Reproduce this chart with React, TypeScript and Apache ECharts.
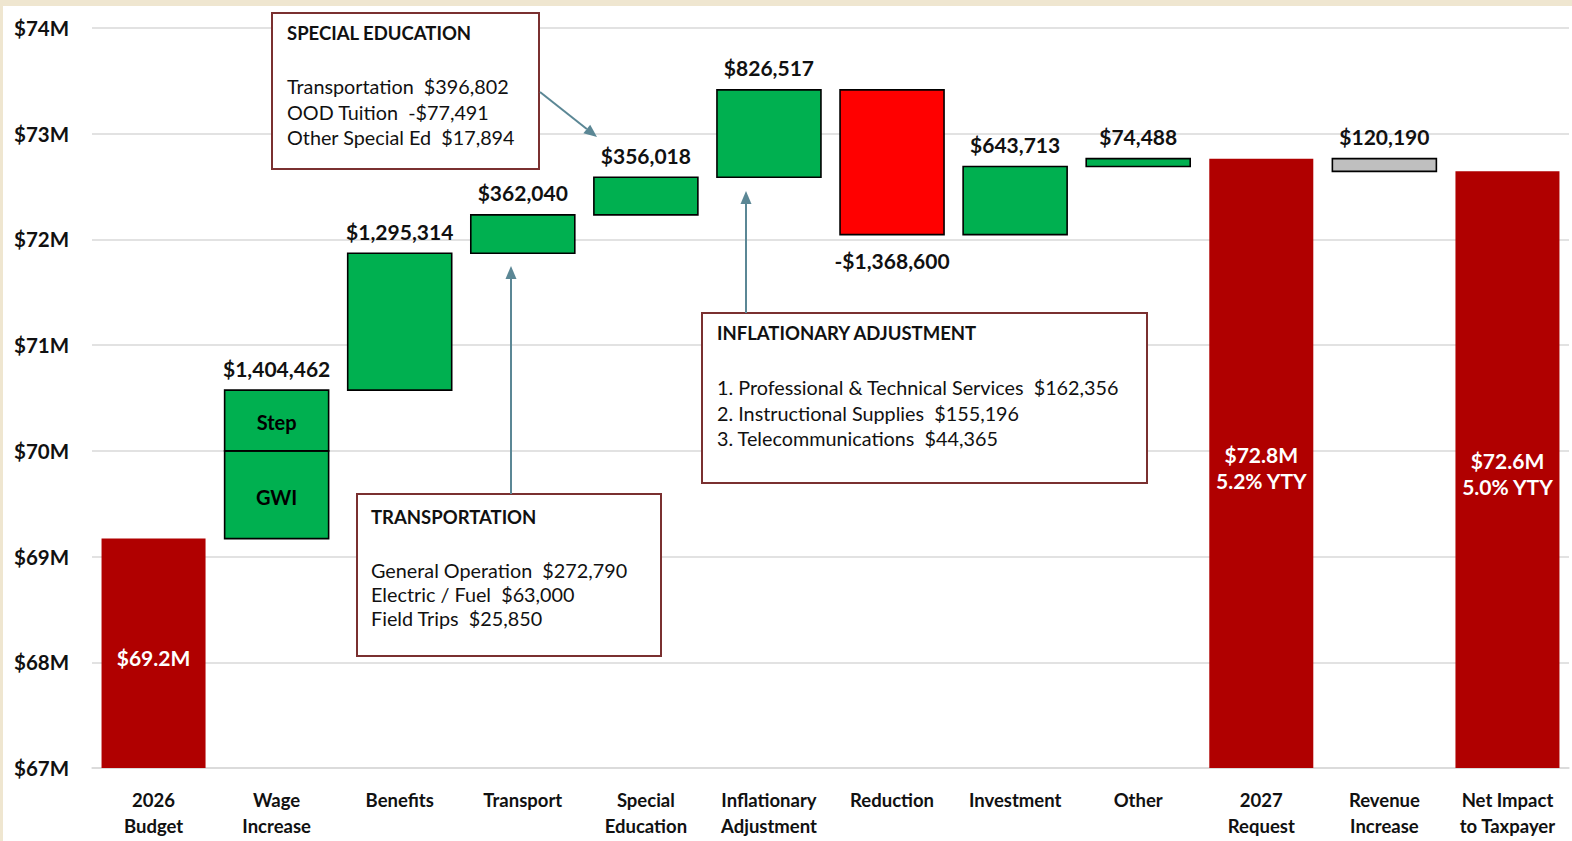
import React, { useEffect, useRef } from 'react';
import * as echarts from 'echarts';

const categories = [
  '2026\nBudget', 'Wage\nIncrease', 'Benefits', 'Transport', 'Special\nEducation',
  'Inflationary\nAdjustment', 'Reduction', 'Investment', 'Other', '2027\nRequest',
  'Revenue\nIncrease', 'Net Impact\nto Taxpayer',
];
const budget2026 = 69170000;
const wageGWI = 830000;
const wageStep = 574462;
const stepChanges = [1295314, 362040, 356018, 826517, -1368600, 643713, 74488]; // Benefits .. Other
const revenueIncrease = 120190;
const changeLabels = ['$1,404,462', '$1,295,314', '$362,040', '$356,018', '$826,517', '-$1,368,600', '$643,713', '$74,488'];
const revenueLabel = '$120,190';
const totalLabels = ['$69.2M', '$72.8M\n5.2% YTY', '$72.6M\n5.0% YTY'];
const yMin = 67;
const yMax = 74;

const GREEN = '#00B050';
const RED = '#FF0000';
const DARK = '#B00000';
const GRAY = '#BFBFBF';
const FONT = 'Lato';

type Row = { i: number; lo: number; hi: number; fill: string; border: boolean; top?: string; bottom?: string; inner?: string; innerColor?: string };

function buildRows(): Row[] {
  const M = 1e6;
  const rows: Row[] = [];
  let cur = budget2026;
  rows.push({ i: 0, lo: 0, hi: cur / M, fill: DARK, border: false, inner: totalLabels[0], innerColor: '#fff' });
  rows.push({ i: 1, lo: cur / M, hi: (cur + wageGWI) / M, fill: GREEN, border: true, inner: 'GWI', innerColor: '#000' });
  rows.push({ i: 1, lo: (cur + wageGWI) / M, hi: (cur + wageGWI + wageStep) / M, fill: GREEN, border: true, inner: 'Step', innerColor: '#000', top: changeLabels[0] });
  cur += wageGWI + wageStep;
  stepChanges.forEach((d, k) => {
    const next = cur + d;
    const neg = d < 0;
    rows.push({
      i: 2 + k, lo: Math.min(cur, next) / M, hi: Math.max(cur, next) / M,
      fill: neg ? RED : GREEN, border: true,
      top: neg ? undefined : changeLabels[1 + k], bottom: neg ? changeLabels[1 + k] : undefined,
    });
    cur = next;
  });
  rows.push({ i: 9, lo: 0, hi: cur / M, fill: DARK, border: false, inner: totalLabels[1], innerColor: '#fff' });
  const net = cur - revenueIncrease;
  rows.push({ i: 10, lo: net / M, hi: cur / M, fill: GRAY, border: true, top: revenueLabel });
  rows.push({ i: 11, lo: 0, hi: net / M, fill: DARK, border: false, inner: totalLabels[2], innerColor: '#fff' });
  return rows;
}

const ARROW = '#5B8795';
const BOX = '#7A3030';

function arrow(x1: number, y1: number, x2: number, y2: number) {
  const dx = x2 - x1, dy = y2 - y1;
  const len = Math.sqrt(dx * dx + dy * dy);
  const ux = dx / len, uy = dy / len;
  const bx = x2 - ux * 13, by = y2 - uy * 13;
  const px = -uy * 5.5, py = ux * 5.5;
  return [
    { type: 'line', z: 20, shape: { x1, y1, x2: bx, y2: by }, style: { stroke: ARROW, lineWidth: 2 } },
    { type: 'polygon', z: 20, shape: { points: [[x2, y2], [bx + px, by + py], [bx - px, by - py]] }, style: { fill: ARROW } },
  ];
}

function box(x: number, y: number, w: number, h: number, title: string, lines: string[], titleY: number, firstY: number, gap: number, tx: number) {
  const els: any[] = [
    { type: 'rect', z: 15, shape: { x, y, width: w, height: h }, style: { fill: '#fff', stroke: BOX, lineWidth: 2 } },
    { type: 'text', z: 16, x: tx, y: titleY, style: { text: title, fontFamily: FONT, fontWeight: 'bold', fontSize: 18.5, fill: '#111', verticalAlign: 'middle' } },
  ];
  lines.forEach((t, k) => {
    els.push({ type: 'text', z: 16, x: tx, y: firstY + k * gap, style: { text: t, fontFamily: FONT, fontSize: 19.8, fill: '#111', verticalAlign: 'middle' } });
  });
  return els;
}

export default function App() {
  const ref = useRef<HTMLDivElement>(null);
  useEffect(() => {
    document.body.style.margin = '0';
    const chart = echarts.init(ref.current!, undefined, { renderer: 'svg' });
    const rows = buildRows();
    const option: any = {
      animation: false,
      backgroundColor: '#fff',
      grid: { left: 92, right: 3, top: 28, bottom: 73, containLabel: false },
      xAxis: {
        type: 'category', data: categories,
        axisLine: { lineStyle: { color: '#D9D9D9', width: 1.5 } },
        axisTick: { show: false },
        axisLabel: { interval: 0, fontFamily: FONT, fontWeight: 'bold', fontSize: 18.5, color: '#111', lineHeight: 26, margin: 19 },
      },
      yAxis: {
        type: 'value', min: yMin, max: yMax, interval: 1,
        axisLine: { show: false }, axisTick: { show: false },
        splitLine: { lineStyle: { color: '#D9D9D9', width: 1.5 } },
        axisLabel: { formatter: (v: number) => `$${v}M`, align: 'left', margin: 78, fontFamily: FONT, fontWeight: 'bold', fontSize: 20.5, color: '#111' },
      },
      series: [{
        type: 'custom',
        data: rows.map((r) => [r.i, r.lo, r.hi]),
        encode: { x: 0, y: [1, 2] },
        renderItem: (params: any, api: any) => {
          const r = rows[params.dataIndex];
          const pTop = api.coord([api.value(0), api.value(2)]);
          const pBot = api.coord([api.value(0), api.value(1)]);
          const w = api.size([1, 0])[0] * 0.845;
          const cs = params.coordSys;
          const rect = echarts.graphic.clipRectByRect(
            { x: pTop[0] - w / 2, y: pTop[1], width: w, height: pBot[1] - pTop[1] },
            { x: cs.x, y: cs.y, width: cs.width, height: cs.height },
          );
          const children: any[] = [];
          if (rect) {
            children.push({
              type: 'rect', shape: rect,
              style: { fill: r.fill, stroke: r.border ? '#000' : null, lineWidth: r.border ? 1.6 : 0 },
            });
            const cx = rect.x + rect.width / 2;
            if (r.top) {
              children.push({ type: 'text', style: { text: r.top, x: cx, y: rect.y - 22, align: 'center', verticalAlign: 'middle', fontFamily: FONT, fontWeight: 'bold', fontSize: 21, fill: '#111' } });
            }
            if (r.bottom) {
              children.push({ type: 'text', style: { text: r.bottom, x: cx, y: rect.y + rect.height + 26, align: 'center', verticalAlign: 'middle', fontFamily: FONT, fontWeight: 'bold', fontSize: 21, fill: '#111' } });
            }
            if (r.inner) {
              const white = r.innerColor === '#fff';
              children.push({ type: 'text', style: { text: r.inner, x: cx, y: rect.y + rect.height / 2 + (white ? 4 : 2), align: 'center', verticalAlign: 'middle', lineHeight: 26, fontFamily: FONT, fontWeight: 'bold', fontSize: white ? 21 : 20, fill: r.innerColor } });
            }
          }
          return { type: 'group', children };
        },
      }],
      graphic: [
        { type: 'rect', z: 30, shape: { x: 0, y: 0, width: 1572, height: 6 }, style: { fill: '#EFE6D0' } },
        { type: 'rect', z: 30, shape: { x: 0, y: 0, width: 3, height: 841 }, style: { fill: '#EFE6D0' } },
        ...box(272, 13, 267, 156, 'SPECIAL EDUCATION', ['Transportation  $396,802', 'OOD Tuition  -$77,491', 'Other Special Ed  $17,894'], 33, 86, 25.5, 287),
        ...box(357, 494, 304, 162, 'TRANSPORTATION', ['General Operation  $272,790', 'Electric / Fuel  $63,000', 'Field Trips  $25,850'], 517, 570, 24, 371),
        ...box(702, 313, 445, 170, 'INFLATIONARY ADJUSTMENT', ['1. Professional & Technical Services  $162,356', '2. Instructional Supplies  $155,196', '3. Telecommunications  $44,365'], 333, 387, 25.5, 717),
        ...arrow(540, 92, 597, 137),
        ...arrow(511, 494, 511, 266),
        ...arrow(746, 313, 746, 191),
      ],
    };
    chart.setOption(option);
    return () => chart.dispose();
  }, []);
  return <div ref={ref} style={{ width: 1572, height: 841 }} />;
}
